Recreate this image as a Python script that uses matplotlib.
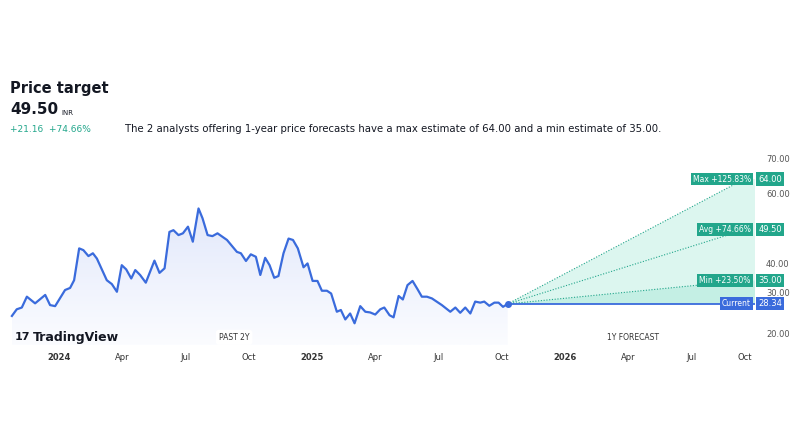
import numpy as np
import matplotlib.pyplot as plt

# months since Jan 2024
months = [-2.24, -2.01, -1.77, -1.53, -1.14, -0.66, -0.43, -0.19, 0.28, 0.52, 0.71, 0.95,
          1.15, 1.39, 1.60, 1.79, 2.26, 2.50, 2.74, 2.97, 3.18, 3.42, 3.61, 3.84, 4.11, 4.52,
          4.76, 5.00, 5.23, 5.42, 5.66, 5.87, 6.11, 6.34, 6.61, 6.80, 7.04, 7.27, 7.51, 7.96,
          8.43, 8.62, 8.86, 9.09, 9.33, 9.54, 9.77, 9.98, 10.20, 10.40, 10.64, 10.88, 11.09,
          11.32, 11.59, 11.78, 12.02, 12.25, 12.46, 12.70, 12.90, 13.17, 13.36, 13.57, 13.80,
          14.01, 14.28, 14.52, 14.75, 14.99, 15.23, 15.42, 15.67, 15.86, 16.10, 16.30, 16.52,
          16.76, 17.00, 17.20, 17.44, 17.68, 18.15, 18.55, 18.79, 19.02, 19.26, 19.50, 19.73,
          19.97, 20.16, 20.40, 20.64, 20.84, 21.05, 21.27]
prices = [24.9, 26.8, 27.3, 30.4, 28.5, 30.9, 28.0, 27.7, 32.3, 32.9, 35.1, 44.2,
          43.7, 42.0, 42.8, 41.3, 35.1, 34.0, 31.8, 39.4, 38.2, 35.6, 38.0, 36.6, 34.4, 40.7,
          37.2, 38.5, 48.9, 49.4, 48.0, 48.5, 50.4, 46.1, 55.6, 52.8, 48.0, 47.7, 48.5, 46.6,
          43.2, 42.8, 40.6, 42.5, 41.8, 36.6, 41.5, 39.4, 35.8, 36.3, 42.8, 47.0, 46.6,
          44.2, 38.8, 39.9, 34.9, 34.9, 32.1, 32.1, 31.3, 26.1, 26.6, 23.9, 25.6,
          22.8, 27.7, 26.1, 25.9, 25.3, 26.8, 27.3, 25.1, 24.5, 30.6, 29.6, 33.7,
          34.9, 32.5, 30.4, 30.4, 29.9, 28.0, 26.1, 27.3, 25.8, 27.3, 25.6, 29.0,
          28.7, 29.0, 27.8, 28.7, 28.7, 27.5, 28.34]

current = 28.34
target_max, target_avg, target_min = 64.00, 49.50, 35.00
forecast_end = 32.5
labels = [("Max +125.83%", target_max), ("Avg +74.66%", target_avg), ("Min +23.50%", target_min)]

tick_pos = [0, 3, 6, 9, 12, 15, 18, 21, 24, 27, 30, 32.5]
tick_lab = ["2024", "Apr", "Jul", "Oct", "2025", "Apr", "Jul", "Oct", "2026", "Apr", "Jul", "Oct"]
y_ticks = [20, 30, 40, 60, 70]

fig = plt.figure(figsize=(8, 4.45), dpi=100)
ax = fig.add_axes([10 / 800, 1 - 345 / 445, 745 / 800, 195 / 445])
xmin, xmax = -2.33, 33.0
ymin, ymax = 16.6, 72.3
ax.set_xlim(xmin, xmax)
ax.set_ylim(ymin, ymax)

blue = "#3a6bdc"
teal = "#22a68b"

# gradient fill under the price line
poly = ax.fill_between(months, prices, ymin, color="none", lw=0)
grad = np.linspace(0, 1, 100).reshape(-1, 1)
img = ax.imshow(grad, extent=[months[0], months[-1], ymin, max(prices)], origin="lower",
                cmap=plt.matplotlib.colors.LinearSegmentedColormap.from_list(
                    "g", ["#fbfcff", "#e2e8fb"]), aspect="auto", zorder=1)
img.set_clip_path(poly.get_paths()[0], transform=ax.transData)
ax.plot(months, prices, color=blue, lw=1.6, zorder=3)
x0 = months[-1]
ax.plot([x0], [current], "o", color=blue, ms=4, zorder=4)

# forecast fan
ax.fill([x0, forecast_end, xmax, xmax, x0], [current, target_max, target_max, current, current],
        color="#dcf6ef", lw=0)
ax.fill([x0, forecast_end, xmax, xmax, x0], [current, target_min, target_min, current, current],
        color="#c4efe4", lw=0)
for _, v in labels:
    ax.plot([x0, forecast_end], [current, v], color=teal, lw=0.8, ls=(0, (1, 1.5)))
ax.plot([x0, xmax], [current, current], color=blue, lw=1.3)
ax.set_xlim(xmin, xmax)
ax.set_ylim(ymin, ymax)

for spine in ax.spines.values():
    spine.set_visible(False)
ax.set_xticks(tick_pos)
ax.set_xticklabels(tick_lab, fontsize=6, color="#333333")
for t in ax.get_xticklabels():
    if t.get_text() in ("2024", "2025", "2026"):
        t.set_fontweight("bold")
ax.tick_params(axis="x", length=0, pad=6)
ax.set_yticks(y_ticks)
ax.yaxis.tick_right()
ax.set_yticklabels([f"{v:.2f}" for v in y_ticks], fontsize=6, color="#555555")
ax.get_yticklabels()[1].set_va("bottom")
ax.tick_params(axis="y", length=0, pad=8)

# value labels on the right
for name, v in labels + [("Current", current)]:
    c = blue if name == "Current" else teal
    ax.text(xmax - 0.2, v, name, ha="right", va="center", fontsize=5.5, color="white",
            bbox=dict(boxstyle="square,pad=0.25", fc=c, ec="none"), zorder=6)
    ax.text(xmax + 0.15, v, f"{v:.2f}", ha="left", va="center", fontsize=6, color="white",
            bbox=dict(boxstyle="square,pad=0.25", fc=c, ec="none"), clip_on=False, zorder=6)

ax.text(8.3, 18.8, "PAST 2Y", fontsize=5.5, color="#333333", ha="center", va="center",
        bbox=dict(boxstyle="round,pad=0.4", fc="white", ec="none"), zorder=5)
ax.text(27.2, 18.8, "1Y FORECAST", fontsize=5.5, color="#333333", ha="center", va="center",
        bbox=dict(boxstyle="round,pad=0.4", fc="white", ec="none"), zorder=5)
ax.text(-2.1, 18.8, "17", fontsize=8, fontweight="heavy", color="#131722", va="center", zorder=5)
ax.text(-1.25, 18.8, "TradingView", fontsize=9, fontweight="bold", color="#131722",
        va="center", zorder=5)

fig.text(10 / 800, 1 - 88 / 445, "Price target", fontsize=10.5, fontweight="bold", va="center",
         color="#131722")
fig.text(10 / 800, 1 - 110 / 445, "49.50", fontsize=11, fontweight="bold", va="center",
         color="#131722")
fig.text(61 / 800, 1 - 113 / 445, "INR", fontsize=5, va="center", color="#131722")
fig.text(10 / 800, 1 - 129 / 445, "+21.16  +74.66%", fontsize=6.5, va="center", color=teal)
fig.text(125 / 800, 1 - 129 / 445,
         "The 2 analysts offering 1-year price forecasts have a max estimate of 64.00 and a min estimate of 35.00.",
         fontsize=7.25, va="center", color="#131722")

fig.savefig("out.png", dpi=100)
